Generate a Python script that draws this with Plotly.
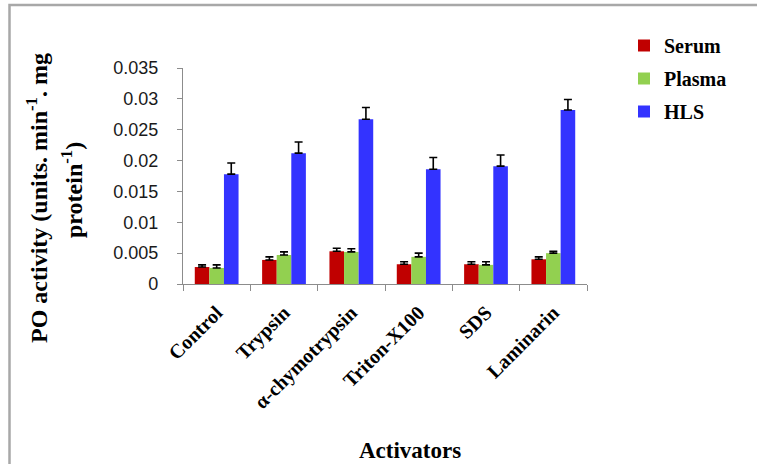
import plotly.graph_objects as go

categories = ["Control", "Trypsin", "α-chymotrypsin", "Triton-X100", "SDS", "Laminarin"]
serum = [0.00275, 0.0039, 0.0053, 0.0032, 0.0032, 0.0040]
serum_err = [0.00035, 0.0005, 0.0005, 0.0004, 0.0004, 0.0004]
plasma = [0.0026, 0.0047, 0.0052, 0.0044, 0.0031, 0.0050]
plasma_err = [0.0005, 0.0005, 0.0005, 0.0006, 0.0005, 0.0003]
hls = [0.0178, 0.0212, 0.0267, 0.0186, 0.0191, 0.0282]
hls_err = [0.0018, 0.0018, 0.0019, 0.0019, 0.0018, 0.0017]
y_tickvals = [0, 0.005, 0.01, 0.015, 0.02, 0.025, 0.03, 0.035]
y_ticktext = ["0", "0.005", "0.01", "0.015", "0.02", "0.025", "0.03", "0.035"]

series = [("Serum", serum, serum_err, "#C00000"),
          ("Plasma", plasma, plasma_err, "#92D050"),
          ("HLS", hls, hls_err, "#3333FF")]

fig = go.Figure()
for name, vals, err, col in series:
    fig.add_trace(go.Bar(
        x=categories, y=vals, name=name, legendgroup=name,
        marker=dict(color=col, line=dict(width=0)),
        error_y=dict(type="data", symmetric=False, array=err,
                     arrayminus=[0] * len(err), color="black",
                     thickness=1.6, width=4),
    ))

serif = "Liberation Serif"
W, H = 757, 464
L, R, T, B = 183, 587, 68, 284

def px(x):
    return (x - L) / (R - L)

def py(y):
    return (B - y) / (B - T)

fig.update_layout(
    width=W, height=H,
    margin=dict(l=L, r=W - R, t=T, b=H - B, pad=0, autoexpand=False),
    paper_bgcolor="white", plot_bgcolor="white",
    barmode="group", bargap=0.35, bargroupgap=0,
    showlegend=True,
    legend=dict(x=px(624), y=py(26), xanchor="left", yanchor="top",
                font=dict(family=serif, size=20, color="black", weight="bold"),
                traceorder="grouped", tracegroupgap=4, itemwidth=30,
                bgcolor="rgba(0,0,0,0)"),
    xaxis=dict(showline=True, linecolor="#8c8c8c", linewidth=1.2,
               ticks="outside", ticklen=6, tickcolor="#8c8c8c",
               tickson="boundaries", tickangle=-45, automargin=False,
               ticklabelstandoff=8,
               tickfont=dict(family=serif, size=20, color="black", weight="bold"),
               showgrid=False),
    yaxis=dict(range=[0, 0.035], showline=True, linecolor="#8c8c8c",
               linewidth=1.2, ticks="outside", ticklen=5, tickcolor="#8c8c8c",
               tickvals=y_tickvals, ticktext=y_ticktext, automargin=False,
               tickfont=dict(family="Liberation Sans", size=18, color="#1a1a1a"),
               ticklabelstandoff=15,
               showgrid=False, zeroline=False),
    font=dict(family=serif, color="black"),
)

fig.add_annotation(text="<b>PO activity (units. min<sup>-1</sup>. mg</b>",
                   xref="paper", yref="paper", x=px(37), y=py(198),
                   xanchor="center", yanchor="middle",
                   textangle=-90, showarrow=False,
                   font=dict(family=serif, size=24, color="black"))
fig.add_annotation(text="<b>protein<sup>-1</sup>)</b>",
                   xref="paper", yref="paper", x=px(72), y=py(190),
                   xanchor="center", yanchor="middle",
                   textangle=-90, showarrow=False,
                   font=dict(family=serif, size=24, color="black"))
fig.add_annotation(text="<b>Activators</b>",
                   xref="paper", yref="paper", x=px(410), y=py(450),
                   xanchor="center", yanchor="middle",
                   showarrow=False,
                   font=dict(family=serif, size=23, color="black"))

fig.add_shape(type="rect", xref="paper", yref="paper",
              x0=px(9.5), x1=px(780), y0=py(500), y1=py(5),
              line=dict(color="#a8a8a8", width=2.5), layer="below")

fig.write_html("out.html", config={"displayModeBar": False},
               post_script="document.body.style.margin='0';document.body.style.overflow='hidden';")
